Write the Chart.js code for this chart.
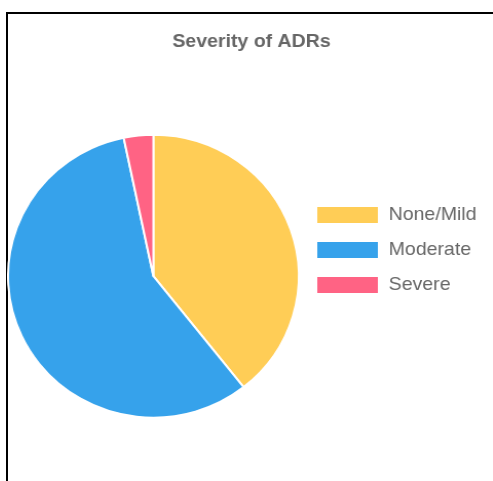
<!DOCTYPE html>
<html>
<head>
<meta charset="utf-8">
<script src="https://cdn.jsdelivr.net/npm/chart.js@4"></script>
<style>
  html, body { margin: 0; padding: 0; background: #fff; overflow: hidden; width: 493px; height: 481px; }
  #frame { position: absolute; left: 6px; top: 12px; width: 600px; height: 600px; border-top: 2px solid #000; border-left: 2px solid #000; box-sizing: border-box; }
  #c { position: absolute; left: 7px; top: 14px; }
</style>
</head>
<body>
<div id="frame"></div>
<canvas id="c" width="476" height="475" style="width:489px;height:475px;"></canvas>
<script>
const categories = ['None/Mild', 'Moderate', 'Severe'];
const counts = [24, 35, 2];
const colors = ['#FFCD56', '#36A2EB', '#FF6384'];
const chartTitle = 'Severity of ADRs';

const baseLabels = Chart.overrides.doughnut.plugins.legend.labels.generateLabels;

new Chart(document.getElementById('c'), {
  type: 'pie',
  data: {
    labels: categories,
    datasets: [{
      data: counts,
      backgroundColor: colors,
      borderColor: '#fff',
      borderWidth: 2
    }]
  },
  options: {
    responsive: false,
    animation: false,
    layout: { padding: 0 },
    plugins: {
      title: {
        display: true,
        text: chartTitle,
        color: '#666',
        font: { family: 'Liberation Sans, Arial, sans-serif', size: 19, weight: 'bold' },
        padding: { top: 16.6, bottom: 10 }
      },
      legend: {
        position: 'right',
        align: 'start',
        maxWidth: 191,
        title: { display: true, text: ' ', font: { size: 10, lineHeight: 1 }, padding: { top: 165.5, bottom: 0 } },
        labels: {
          boxWidth: 61,
          boxHeight: 18,
          padding: 16,
          color: '#666',
          font: { family: 'Liberation Sans, Arial, sans-serif', size: 19 },
          generateLabels: (chart) => baseLabels(chart).map(l => Object.assign(l, { text: l.text + '\u00a0\u00a0\u00a0' }))
        }
      },
      tooltip: { enabled: false }
    }
  }
});
</script>
</body>
</html>
